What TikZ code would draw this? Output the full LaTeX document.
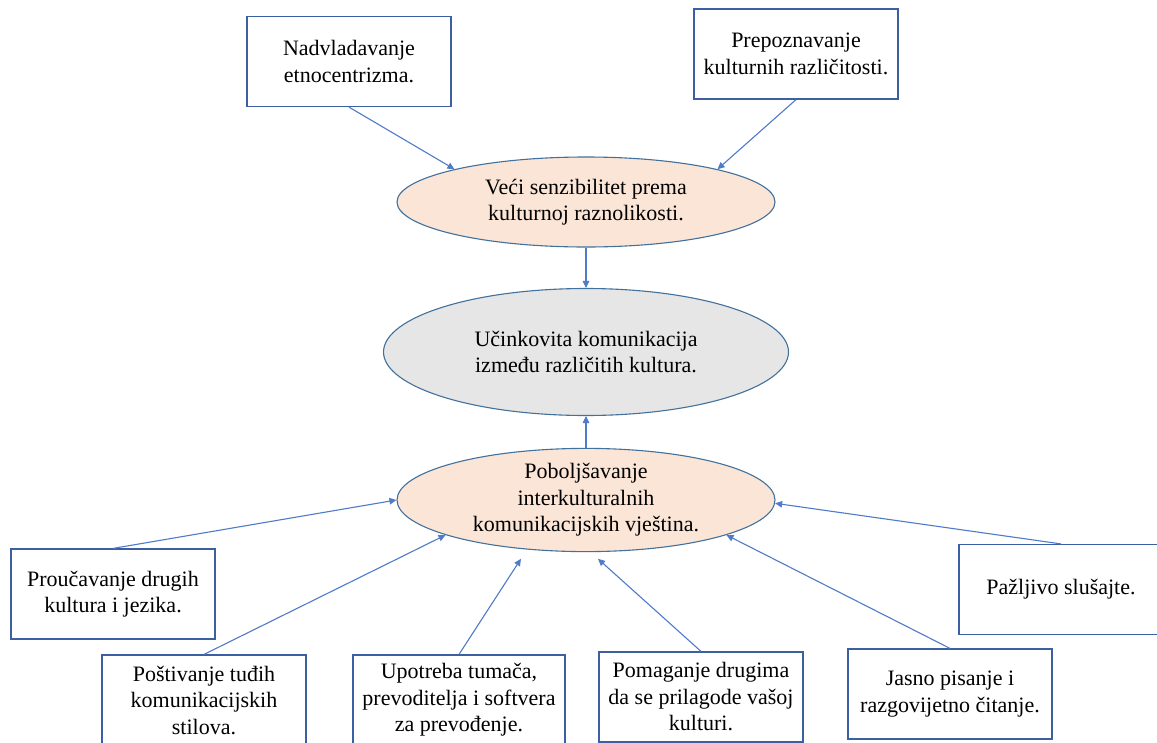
\documentclass[tikz,border=0pt]{standalone}
\usepackage{fontspec}
\setmainfont{Liberation Serif}
\usetikzlibrary{arrows.meta,shapes.geometric}
\definecolor{boxline}{HTML}{3C5FA0}
\definecolor{ellline}{HTML}{41719C}
\definecolor{arrline}{HTML}{4F7BC9}
\definecolor{peach}{HTML}{FBE5D6}
\definecolor{greyfill}{HTML}{E7E6E6}
\begin{document}
\begin{tikzpicture}[x=1pt,y=-1pt,
  every node/.style={font=\fontsize{22}{26.5}\selectfont, align=center, inner sep=0pt},
  stepbox/.style={rectangle, draw=boxline, line width=1.2pt, fill=white, minimum width=204pt, minimum height=90pt},
  peachell/.style={ellipse, draw=ellline, line width=1.1pt, fill=peach, minimum width=378pt, minimum height=90pt},
  greyell/.style={ellipse, draw=ellline, line width=1.1pt, fill=greyfill, minimum width=405pt, minimum height=127pt},
  arr/.style={draw=arrline, line width=1.1pt, -{Triangle[length=7pt,width=6.5pt]}}
]
\useasboundingbox[fill=white] (0,0) rectangle (1157,742);

\node[stepbox] (n1) at (349,61.5) {Nadvladavanje\\etnocentrizma.};
\node[stepbox] (n2) at (796,54) {Prepoznavanje\\kulturnih različitosti.};

\node[peachell] (e1) at (586,202) {Veći senzibilitet prema\\kulturnoj raznolikosti.};
\node[greyell] (e2) at (586,352) {Učinkovita komunikacija\\između različitih kultura.};
\node[peachell] (e3) at (586,500) {Poboljšavanje\\interkulturalnih\\komunikacijskih vještina.};

\node[stepbox] (b1) at (113,594) {Proučavanje drugih\\kultura i jezika.};
\node[stepbox] (b2) at (204,700) {Poštivanje tuđih\\komunikacijskih\\stilova.};
\node[stepbox, minimum width=212pt] (b3) at (459,700) {Upotreba tumača,\\prevoditelja i softvera\\za prevođenje.};
\node[stepbox] (b4) at (701,697) {Pomaganje drugima\\da se prilagode vašoj\\kulturi.};
\node[stepbox] (b5) at (950,694) {Jasno pisanje i\\razgovijetno čitanje.};
\node[stepbox] (b6) at (1061,589.5) {Pažljivo slušajte.};

\draw[arr] (n1.south) -- (e1.166);
\draw[arr] (n2.south) -- (e1.14);
\draw[arr] (e1.south) -- (e2.north);
\draw[arr] (e3.north) -- (e2.south);

\draw[arr] (b1.north) -- (e3.west);
\draw[arr] (b2.north) -- (e3.194);
\draw[arr, shorten >=11pt] (b3.north) -- (e3.220);
\draw[arr, shorten >=10pt] (b4.north) -- (e3.-85);
\draw[arr] (b5.north) -- (e3.-14);
\draw[arr] (b6.north) -- (e3.-1);
\end{tikzpicture}
\end{document}
